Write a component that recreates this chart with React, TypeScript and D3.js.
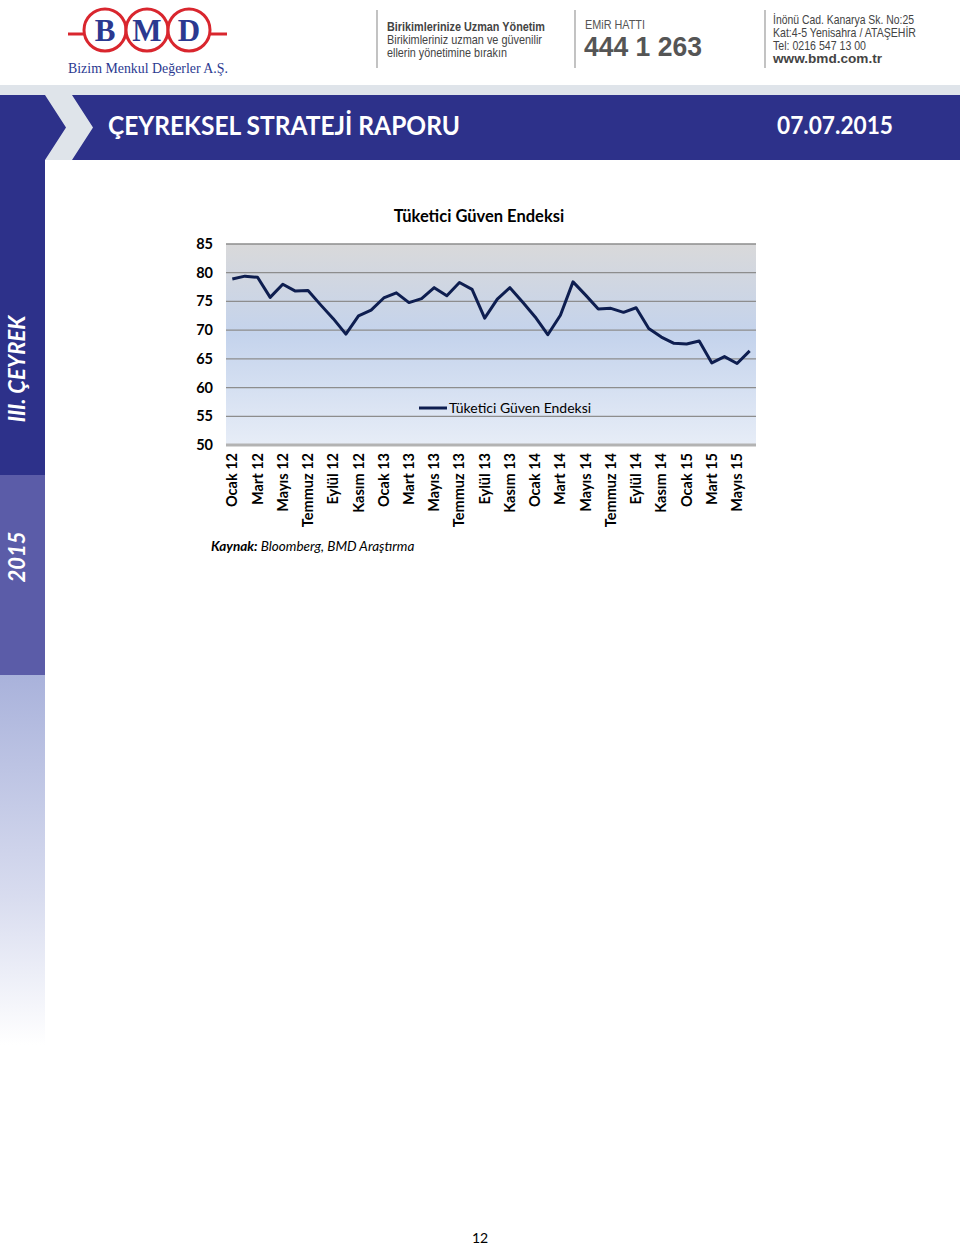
import React from "react";
import * as d3 from "d3";

const months = [
  "Ocak 12","Şubat 12","Mart 12","Nisan 12","Mayıs 12","Haziran 12","Temmuz 12","Ağustos 12","Eylül 12","Ekim 12","Kasım 12","Aralık 12",
  "Ocak 13","Şubat 13","Mart 13","Nisan 13","Mayıs 13","Haziran 13","Temmuz 13","Ağustos 13","Eylül 13","Ekim 13","Kasım 13","Aralık 13",
  "Ocak 14","Şubat 14","Mart 14","Nisan 14","Mayıs 14","Haziran 14","Temmuz 14","Ağustos 14","Eylül 14","Ekim 14","Kasım 14","Aralık 14",
  "Ocak 15","Şubat 15","Mart 15","Nisan 15","Mayıs 15","Haziran 15"
];
const cci = [
  78.9, 79.4, 79.2, 75.7, 78.0, 76.8, 76.9, 74.4, 72.0, 69.3, 72.5, 73.5,
  75.6, 76.5, 74.8, 75.5, 77.4, 76.0, 78.3, 77.1, 72.1, 75.4, 77.4, 74.9,
  72.3, 69.2, 72.6, 78.4, 76.1, 73.7, 73.8, 73.1, 73.9, 70.3, 68.8, 67.7,
  67.6, 68.1, 64.3, 65.4, 64.2, 66.4
];
const yTicks = [50, 55, 60, 65, 70, 75, 80, 85];
const chartTitle = "Tüketici Güven Endeksi";
const seriesName = "Tüketici Güven Endeksi";

const cal = "Lato, 'Open Sans', 'Liberation Sans', sans-serif";
const arial = "'Liberation Sans', Arial, sans-serif";

export default function App() {
  const x = d3.scalePoint<string>().domain(months).range([226, 756]).padding(0.5);
  const y = d3.scaleLinear().domain([50, 85]).range([445, 244]);
  const line = d3
    .line<number>()
    .x((_, i) => x(months[i]) as number)
    .y((d) => y(d));

  const hdr = (tx: number, ty: number, s: string, len: number, bold = false, size = 13, fill = "#444") => (
    <text x={tx} y={ty} fontFamily={arial} fontWeight={bold ? "bold" : "normal"} fontSize={size} fill={fill} textLength={len} lengthAdjust="spacingAndGlyphs">
      {s}
    </text>
  );

  return (
    <svg width={960} height={1245} style={{ position: "absolute", left: 0, top: 0, background: "#fff" }}>
      <defs>
        <linearGradient id="plotbg" x1="0" y1="0" x2="0" y2="1">
          <stop offset="0%" stopColor="#d9d9da" />
          <stop offset="45%" stopColor="#c4d3ec" />
          <stop offset="100%" stopColor="#e7edf7" />
        </linearGradient>
        <linearGradient id="sidefade" x1="0" y1="0" x2="0" y2="1">
          <stop offset="0%" stopColor="#a9b2db" />
          <stop offset="60%" stopColor="#d8dcef" />
          <stop offset="100%" stopColor="#ffffff" />
        </linearGradient>
      </defs>

      {/* Header */}
      <g>
        <line x1={68} y1={34} x2={86} y2={34} stroke="#d9262e" strokeWidth={3} />
        <line x1={209} y1={34} x2={227} y2={34} stroke="#d9262e" strokeWidth={3} />
        {[105, 147, 189].map((cx) => (
          <circle key={cx} cx={cx} cy={30} r={21} fill="#fff" stroke="#d9262e" strokeWidth={3} />
        ))}
        {["B", "M", "D"].map((t, i) => (
          <text key={t} x={105 + i * 42} y={41} textAnchor="middle" fontFamily="'Liberation Serif', 'DejaVu Serif', serif" fontWeight="bold" fontSize={31} fill="#2b3990">
            {t}
          </text>
        ))}
        <text x={68} y={73} fontFamily="'Liberation Serif', serif" fontSize={14.5} fill="#2b3990" textLength={160} lengthAdjust="spacingAndGlyphs">
          Bizim Menkul Değerler A.Ş.
        </text>

        {[377, 575, 765].map((lx) => (
          <line key={lx} x1={lx} y1={10} x2={lx} y2={68} stroke="#9a9a9a" strokeWidth={1.2} />
        ))}
        {hdr(387, 31, "Birikimlerinize Uzman Yönetim", 158, true)}
        {hdr(387, 44, "Birikimleriniz uzman ve güvenilir", 155)}
        {hdr(387, 57, "ellerin yönetimine bırakın", 120)}

        {hdr(585, 29, "EMiR HATTI", 60, false, 13, "#555")}
        {hdr(584, 56, "444 1 263", 118, true, 27, "#555")}

        {hdr(773, 24, "İnönü Cad. Kanarya Sk. No:25", 141)}
        {hdr(773, 37, "Kat:4-5 Yenisahra / ATAŞEHİR", 143)}
        {hdr(773, 50, "Tel: 0216 547 13 00", 93)}
        {hdr(773, 63, "www.bmd.com.tr", 109, true)}
      </g>

      {/* band */}
      <rect x={0} y={85} width={960} height={10} fill="#dfe4ea" />
      <rect x={0} y={95} width={960} height={65} fill="#2d318a" />
      <path d="M45,95 L72,95 L93,127.5 L72,160 L45,160 L66,127.5 Z" fill="#dfe4ea" />
      <text x={108} y={135} fontFamily={cal} fontWeight="bold" fontSize={27} fill="#fff" textLength={352} lengthAdjust="spacingAndGlyphs">ÇEYREKSEL STRATEJİ RAPORU</text>
      <text x={777} y={134} fontFamily={cal} fontWeight="bold" fontSize={24} fill="#fff" textLength={116} lengthAdjust="spacingAndGlyphs">07.07.2015</text>

      {/* sidebar */}
      <rect x={0} y={160} width={45} height={315} fill="#2d318a" />
      <rect x={0} y={475} width={45} height={200} fill="#5b5ca8" />
      <rect x={0} y={675} width={45} height={370} fill="url(#sidefade)" />
      <text transform="translate(25,369) rotate(-90)" textAnchor="middle" fontFamily={cal} fontWeight="bold" fontStyle="italic" fontSize={22} fill="#fff">III. ÇEYREK</text>
      <text transform="translate(25,557) rotate(-90)" textAnchor="middle" fontFamily={cal} fontWeight="bold" fontStyle="italic" fontSize={22} fill="#fff">2015</text>

      {/* chart */}
      <text x={479} y={222} textAnchor="middle" fontFamily={cal} fontWeight="bold" fontSize={16.5} fill="#000">{chartTitle}</text>
      <rect x={226} y={y(85)} width={530} height={y(50) - y(85)} fill="url(#plotbg)" />
      {yTicks.map((t) => (
        <g key={t}>
          {t !== 50 && (
            <line x1={226} x2={756} y1={y(t)} y2={y(t)} stroke="#8d8d8d" strokeWidth={1.3} />
          )}
          <text x={213} y={y(t) + 5} textAnchor="end" fontFamily={cal} fontWeight="bold" fontSize={14.5} fill="#000">{t}</text>
        </g>
      ))}
      <line x1={226} x2={756} y1={y(50)} y2={y(50)} stroke="#b3b3b3" strokeWidth={3} />

      <path d={line(cci) || ""} fill="none" stroke="#0e1e50" strokeWidth={3} strokeLinejoin="round" />

      <line x1={419} x2={447} y1={408} y2={408} stroke="#0e1e50" strokeWidth={3} />
      <text x={449} y={413} fontFamily={cal} fontSize={14} fill="#000">{seriesName}</text>

      {months.map((m, i) =>
        i % 2 === 0 ? (
          <text
            key={m}
            transform={`translate(${(x(m) as number) + 5},453) rotate(-90)`}
            textAnchor="end"
            fontFamily={cal}
            fontWeight="bold"
            fontSize={14.5}
            fill="#000"
          >
            {m}
          </text>
        ) : null
      )}

      <text x={211} y={551} fontFamily={cal} fontStyle="italic" fontSize={13.5} fill="#000">
        <tspan fontWeight="bold">Kaynak:</tspan> Bloomberg, BMD Araştırma
      </text>

      <text x={480} y={1243} textAnchor="middle" fontFamily={cal} fontSize={14} fill="#000">12</text>
    </svg>
  );
}
